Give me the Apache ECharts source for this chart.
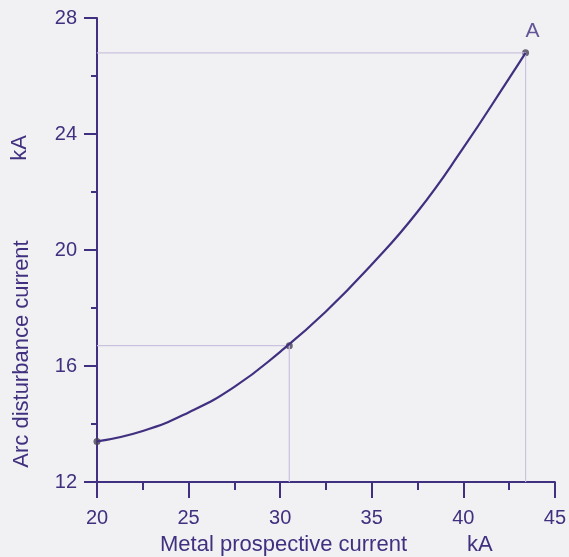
<!DOCTYPE html>
<html>
<head>
<meta charset="utf-8">
<script src="https://cdn.jsdelivr.net/npm/echarts@6/dist/echarts.min.js"></script>
<style>
  html, body { margin: 0; padding: 0; background: #f1f0f3; }
  #chart { width: 569px; height: 557px; }
</style>
</head>
<body>
<div id="chart"></div>
<script>
// curve: metal prospective current (kA) -> arc disturbance current (kA)
const curveX = [20, 22.5, 25, 27.5, 30, 32.5, 35, 37.5, 40, 42.5, 43.4]
const curveY = [13.4, 13.76, 14.4, 15.28, 16.49, 17.88, 19.5, 21.32, 23.52, 25.92, 26.8]
// marked points on the curve
const markX = [20, 30.5, 43.4]
const markY = [13.4, 16.7, 26.8]
const markLabels = ['', '', 'A']

const ink   = '#40307f'
const faint = '#cbc2e0'
const font  = '"Liberation Sans", Arial, sans-serif'

const chart = echarts.init(document.getElementById('chart'))

const axisCommon = {
  type: 'value',
  axisLine: { lineStyle: { color: ink, width: 2 } },
  axisTick: { inside: false, lineStyle: { color: ink, width: 2 } },
  minorTick: { show: true, splitNumber: 2, lineStyle: { color: ink, width: 2 } },
  splitLine: { show: false },
  axisLabel: { color: ink, fontSize: 20, fontFamily: font },
}

chart.setOption({
  backgroundColor: '#f1f0f3',
  animation: false,
  grid: { left: 97, right: 12, top: 18, bottom: 75 },
  xAxis: {
    ...axisCommon,
    min: 20, max: 45, interval: 5,
    axisTick: { ...axisCommon.axisTick, length: 16 },
    minorTick: { ...axisCommon.minorTick, length: 8 },
    axisLabel: { ...axisCommon.axisLabel, margin: 26 },
  },
  yAxis: {
    ...axisCommon,
    min: 12, max: 28, interval: 4,
    axisTick: { ...axisCommon.axisTick, length: 13 },
    minorTick: { ...axisCommon.minorTick, length: 6 },
    axisLabel: { ...axisCommon.axisLabel, margin: 20 },
  },
  graphic: [
    { type: 'text', x: 160, y: 545,
      style: { text: 'Metal prospective current', fill: ink, font: '22px ' + font, verticalAlign: 'middle' } },
    { type: 'text', x: 467, y: 545,
      style: { text: 'kA', fill: ink, font: '22px ' + font, verticalAlign: 'middle' } },
    { type: 'text', x: 22, y: 354, rotation: Math.PI / 2,
      style: { text: 'Arc disturbance current', fill: ink, font: '22px ' + font, align: 'center', verticalAlign: 'middle' } },
    { type: 'text', x: 20, y: 148, rotation: Math.PI / 2,
      style: { text: 'kA', fill: ink, font: '22px ' + font, align: 'center', verticalAlign: 'middle' } },
  ],
  series: [
    {
      type: 'line', silent: true, symbol: 'none',
      data: [[20, markY[1]], [markX[1], markY[1]], [markX[1], 12]],
      lineStyle: { color: faint, width: 1.2 },
    },
    {
      type: 'line', silent: true, symbol: 'none',
      data: [[20, markY[2]], [markX[2], markY[2]], [markX[2], 12]],
      lineStyle: { color: faint, width: 1.2 },
    },
    {
      type: 'line', symbol: 'none', smooth: 0.5,
      data: curveX.map((x, i) => [x, curveY[i]]),
      lineStyle: { color: ink, width: 2.2 },
    },
    {
      type: 'scatter', symbolSize: 7,
      data: markX.map((x, i) => [x, markY[i]]),
      itemStyle: { color: '#4a4258' },
      label: {
        show: true, position: 'top', distance: 8, offset: [7, 0],
        formatter: p => markLabels[p.dataIndex],
        color: ink, fontSize: 21, fontFamily: font,
      },
    },
  ],
})
</script>
</body>
</html>
